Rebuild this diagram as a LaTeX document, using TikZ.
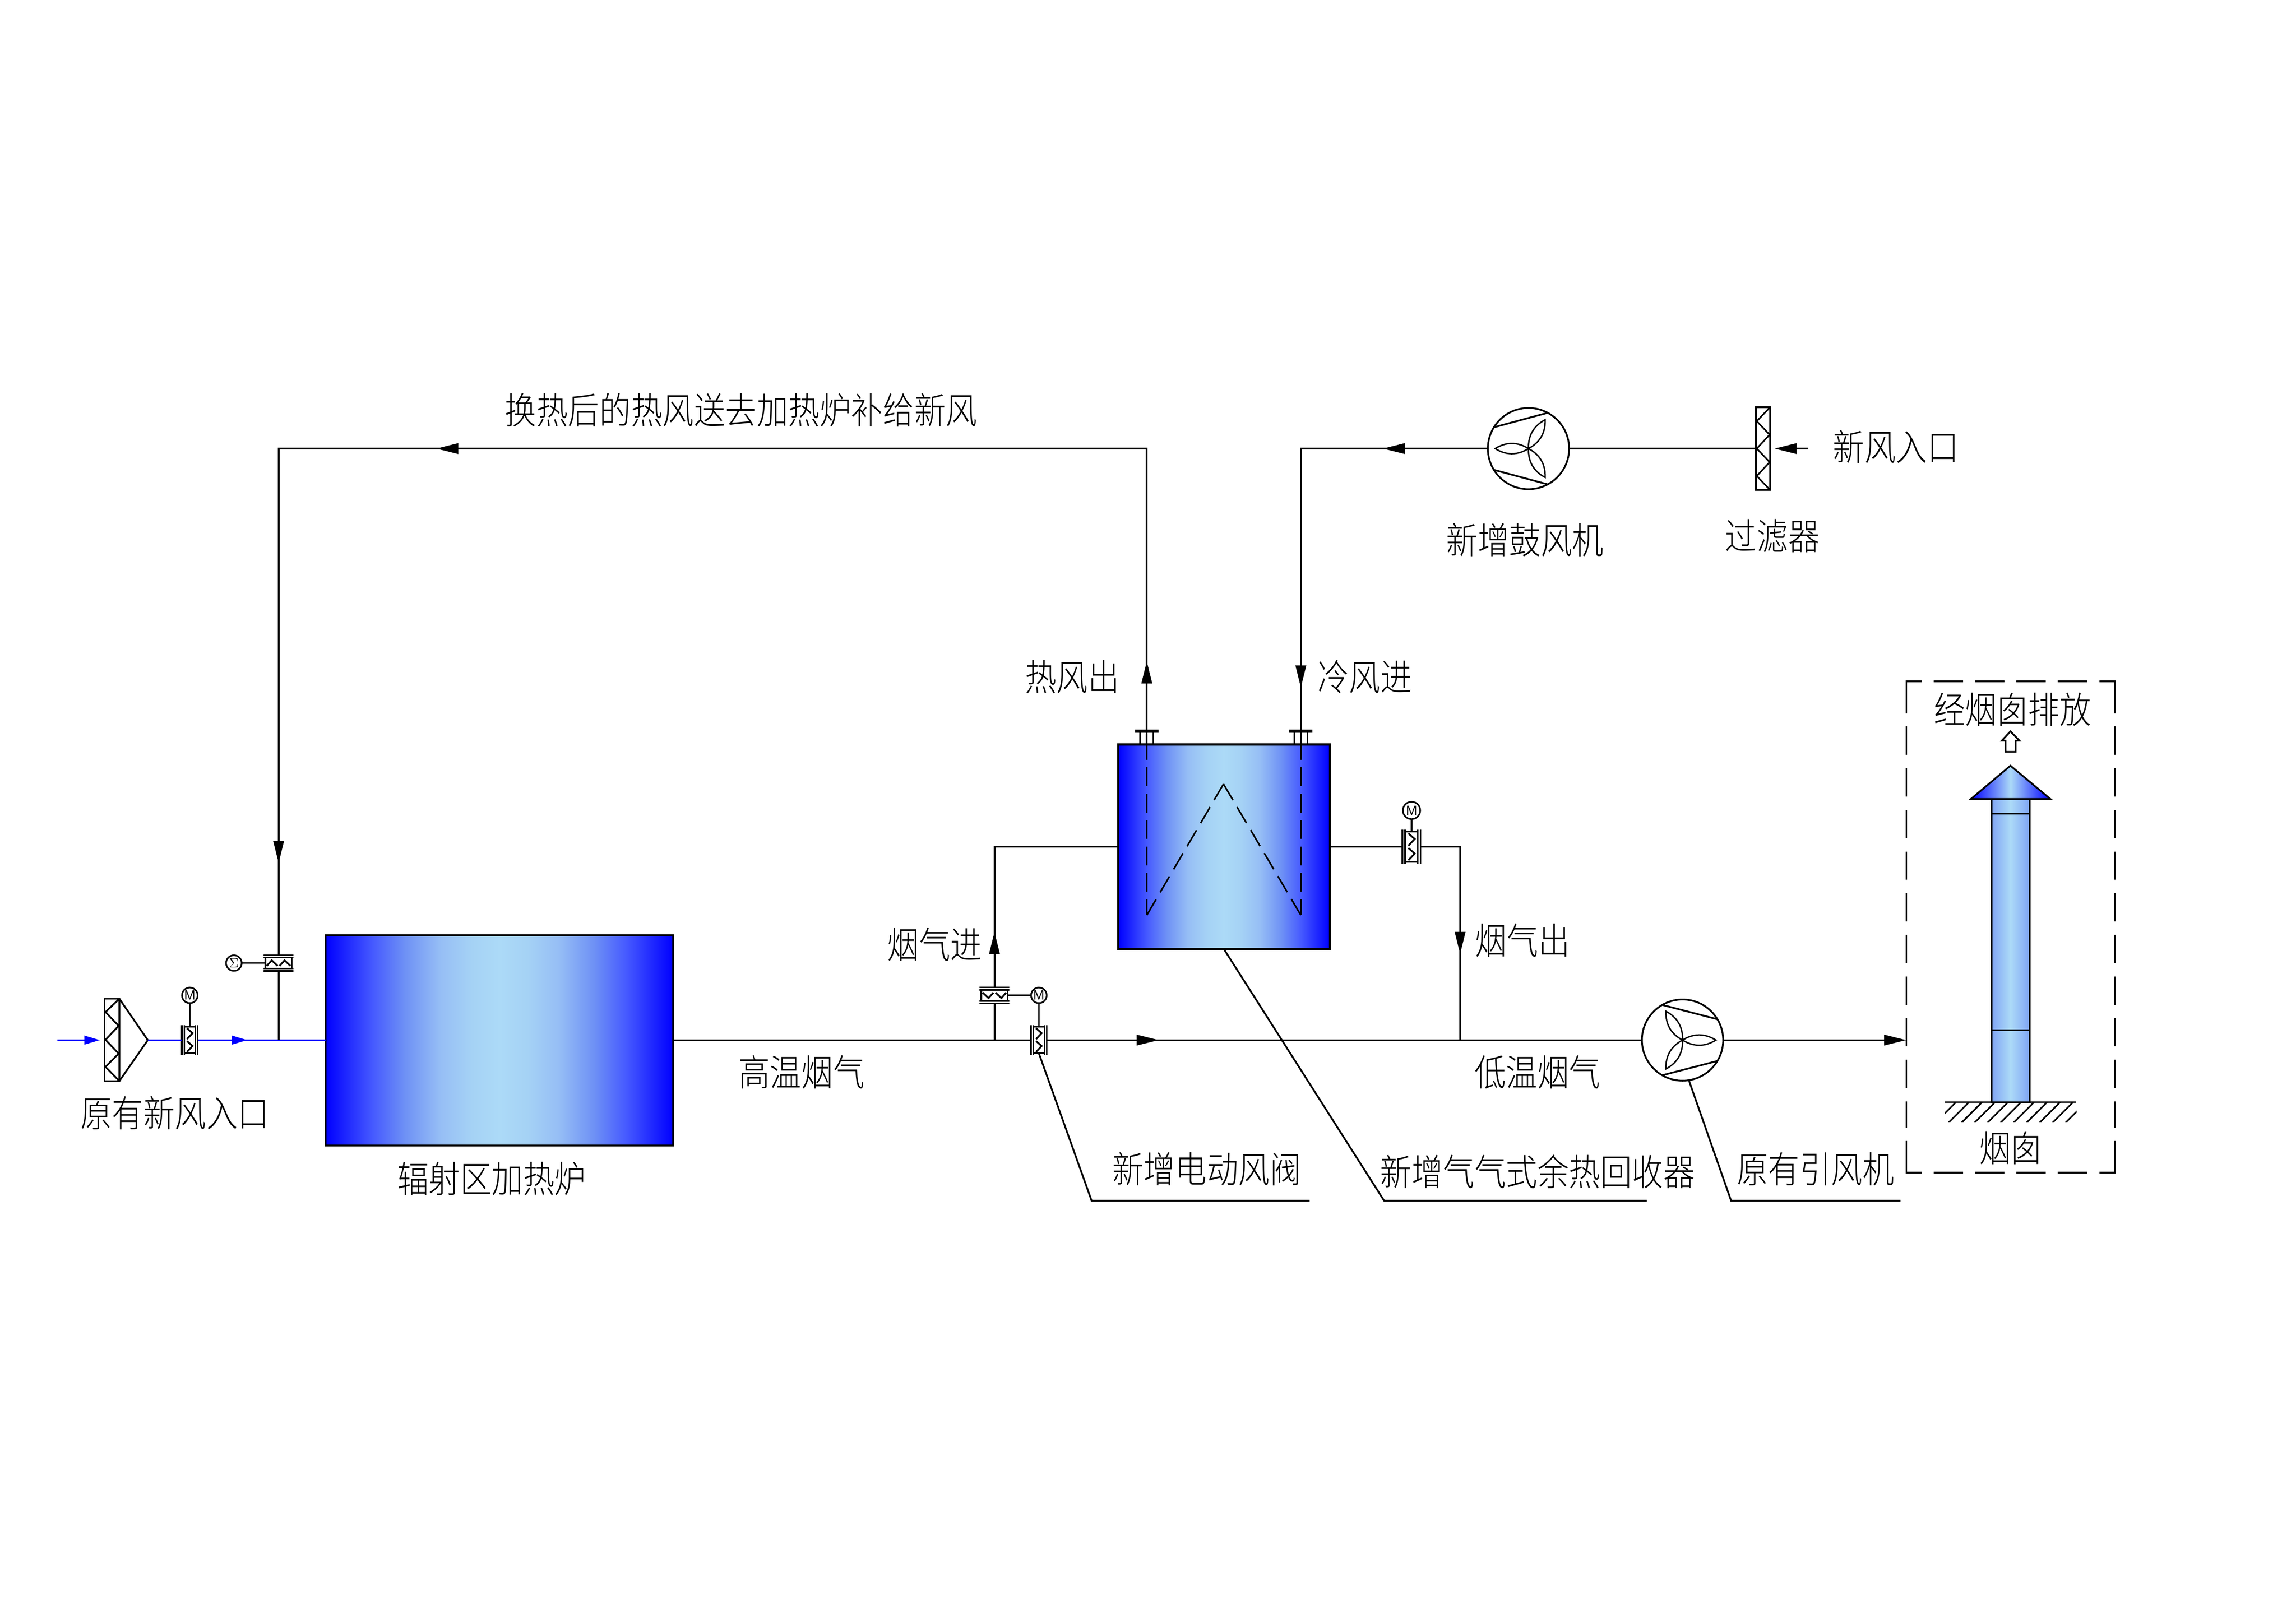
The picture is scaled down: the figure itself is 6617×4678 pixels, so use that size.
\documentclass[tikz,border=0pt]{standalone}
\usepackage{fontspec}
\usetikzlibrary{arrows.meta,calc}
\newfontfamily\cjk[FakeStretch=0.86]{Noto Sans CJK SC Light}
\newfontfamily\latn{Liberation Sans}
\definecolor{pale}{RGB}{172,218,247}
\definecolor{midb}{RGB}{128,165,245}
\definecolor{hA}{RGB}{70,90,255}
\definecolor{hB}{RGB}{110,145,245}
\definecolor{hC}{RGB}{150,190,245}
\definecolor{hD}{RGB}{165,210,245}
\pgfdeclarehorizontalshading{hotgrad}{100bp}{
  color(0bp)=(blue); color(25bp)=(blue); color(31.8bp)=(hA); color(36.4bp)=(hB);
  color(41.5bp)=(hC); color(46bp)=(hD); color(50bp)=(pale); color(54bp)=(hD);
  color(58.5bp)=(hC); color(63.6bp)=(hB); color(68.2bp)=(hA); color(75bp)=(blue); color(100bp)=(blue)}
\tikzset{
  pipe/.style={draw=black,line width=.05cm,line cap=butt,line join=miter},
  bluepipe/.style={draw=blue,line width=.05cm},
  thin part/.style={draw=black,line width=.045cm},
  flow/.style={pipe,-{Triangle[length=.64cm,width=.30cm]}},
  blueflow/.style={bluepipe,-{Triangle[length=.45cm,width=.25cm]}},
  hotbox/.style={draw=black,line width=.055cm,rectangle,outer sep=0pt,shading=hotgrad},
  fanbody/.style={draw=black,line width=.05cm,circle,inner sep=0pt,minimum size=2.34cm,outer sep=0pt},
  motor/.style={draw=black,line width=.045cm,circle,inner sep=0pt,minimum size=.45cm,outer sep=0pt,font=\latn\fontsize{11}{11}\selectfont},
  lab/.style={inner sep=0pt,font=\cjk\fontsize{30}{30}\selectfont},
  hid/.style={draw=black,line width=.045cm}
}
\newcommand{\damperat}[5]{%
  \begin{scope}[shift={(#2,#3)},rotate=#5,scale=#4]
    \draw[thin part] (-23,-43) -- (-23,43) (-16,-43) -- (-16,43) (16,-43) -- (16,43) (23,-43) -- (23,43);
    \draw[thin part] (-16,-38) -- (16,-38) (-16,38) -- (16,38);
    \draw[thin part,line width=.05cm] (-8,-34) -- (8,-20) -- (-8,-3) (-8,3) -- (8,17) -- (-8,34);
    \coordinate (#1-l) at (-23,0);
    \coordinate (#1-r) at (23,0);
    \coordinate (#1-t) at (0,-38);
    \coordinate (#1-b) at (0,38);
  \end{scope}}
\newcommand{\bladesat}[2]{%
  \foreach \a in {#2,#2+120,#2+240}
    \draw[line width=.04cm] (#1.center) to[bend left=32] ++(\a:96) to[bend left=32] (#1.center);}
\begin{document}
\begin{tikzpicture}[x=.01cm,y=-.01cm]
\useasboundingbox (0,0) rectangle (6617,4678);
\fill[white] (0,0) rectangle (6617,4678);

% ---- main equipment
\node[hotbox,minimum width=10.01cm,minimum height=6.06cm] (furnace) at (1439.5,2999) {};
\node[hotbox,minimum width=6.09cm,minimum height=5.9cm] (rec) at (3527.5,2441) {};
\node[fanbody] (fanB) at (4405,1293) {};
\node[fanbody] (fanA) at (4849,2998) {};
\node[motor] (m1) at (547,2869) {M};
\node[motor] (m2) at (674,2776) {$\Sigma$};
\node[motor] (m3) at (2994,2869) {M};
\node[motor,minimum size=.5cm] (m5) at (4068,2336) {M};

% ---- coordinates
\coordinate (inA) at (166,2998);
\coordinate (inTip) at (288,2998);
\coordinate (coneTip) at (426,2998);
\coordinate (joinA) at (803,2998);
\coordinate (blueTip) at (713,2998);
\coordinate (furnW) at (939,2998);
\coordinate (furnE) at (1940,2998);
\coordinate (hot) at (3305,2146);
\coordinate (hotCap) at (3305,2108);
\coordinate (hotTip) at (3305,1906);
\coordinate (hotCorner) at (3305,1293);
\coordinate (cornerA) at (803,1293);
\coordinate (leftTip) at (1257,1293);
\coordinate (downTip) at (803,2488);
\coordinate (cold) at (3749,2146);
\coordinate (coldCap) at (3749,2108);
\coordinate (coldCorner) at (3749,1293);
\coordinate (coldTip) at (3749,1982);
\coordinate (coldLeftTip) at (3985,1293);
\coordinate (teeA) at (2866,2998);
\coordinate (gasTip) at (2866,2686);
\coordinate (gasCorner) at (2866,2441);
\coordinate (mainTip) at (3340,2998);
\coordinate (teeB) at (4208,2998);
\coordinate (outCorner) at (4208,2441);
\coordinate (outTip) at (4208,2750);
\coordinate (stackIn) at (5494,2998);
\coordinate (filtB) at (5061,1293);
\coordinate (newTip) at (5114,1293);
\coordinate (newTail) at (5212,1293);

% ---- dampers
\damperat{v1}{547}{2998}{1}{0}
\damperat{d2}{803}{2776}{1}{90}
\damperat{d3}{2866}{2869}{1}{-90}
\damperat{v3}{2994}{2998}{1}{0}
\damperat{v5}{4068}{2441}{1.14}{0}

% ---- stems
\draw[thin part] (m1) -- (v1-t);
\draw[thin part] (m2) -- (d2-t);
\draw[thin part] (m3) -- (d3-t);
\draw[thin part] (m3) -- (v3-t);
\draw[thin part] (m5) -- (v5-t);

% ---- filter A
\draw[thin part,line width=.05cm] (301,2879) rectangle (344,3116);
\draw[thin part,line width=.05cm] (344,2879) -- (304,2917) -- (342,2957) -- (304,2997) -- (342,3037) -- (304,3075) -- (344,3116);
\draw[thin part,line width=.05cm] (344,2879) -- (coneTip) -- (344,3116);

% ---- filter B
\node[draw=black,line width=.05cm,minimum width=.41cm,minimum height=2.38cm,inner sep=0pt,outer sep=0pt] (filterB) at (5081.5,1293) {};
\draw[thin part] (5101,1174) -- (5063,1214) -- (5100,1253) -- (5063,1293) -- (5100,1332) -- (5063,1372) -- (5101,1412);

% ---- blue inlet
\draw[blueflow] (inA) -- (inTip);
\draw[bluepipe] (coneTip) -- (v1-l);
\draw[bluepipe] (v1-r) -- (furnW);
\draw[blueflow] (v1-r) -- (blueTip);

% ---- air circuit
\draw[pipe] (d2-l) -- (joinA);
\draw[pipe] (hot) -- (hotCorner) -- (cornerA) -- (d2-r);
\draw[flow] (hotCap) -- (hotTip);
\draw[flow] (hotCorner) -- (leftTip);
\draw[flow] (cornerA) -- (downTip);
\draw[pipe] (fanB.west) -- (coldCorner) -- (cold);
\draw[flow] (coldCorner) -- (coldTip);
\draw[flow] (fanB.west) -- (coldLeftTip);
\draw[pipe] (fanB.east) -- (filtB);
\draw[flow] (newTail) -- (newTip);

% ---- flue gas
\draw[pipe] (furnE) -- (v3-l);
\draw[pipe] (teeA) -- (d3-r);
\draw[pipe] (d3-l) -- (gasCorner) -- (rec.west);
\draw[flow] (d3-l) -- (gasTip);
\draw[pipe] (v3-r) -- (fanA.west);
\draw[flow] (v3-r) -- (mainTip);
\draw[pipe] (rec.east) -- (v5-l);
\draw[pipe] (v5-r) -- (outCorner) -- (teeB);
\draw[flow] (outCorner) -- (outTip);
\draw[flow] (fanA.east) -- (stackIn);

% ---- recuperator nozzles and internal coil
\draw[pipe,line width=.09cm] (3271,2108) -- (3339,2108);
\draw[pipe,line width=.09cm] (3715,2108) -- (3782,2108);
\draw[thin part] (3286,2108) -- (3286,2146) (3324,2108) -- (3324,2146);
\draw[thin part] (3730,2108) -- (3730,2146) (3768,2108) -- (3768,2146);
\draw[pipe] (hotCap) -- (hot);
\draw[pipe] (coldCap) -- (cold);
\coordinate (coilL) at (3305,2638);
\coordinate (coilR) at (3749,2638);
\coordinate (coilTop) at (3526,2260);
\draw[hid,dash pattern=on .54cm off .22cm,dash phase=.08cm] (coilL) -- (hot);
\draw[hid,dash pattern=on .54cm off .22cm,dash phase=.08cm] (coilR) -- (cold);
\draw[hid,dash pattern=on .535cm off .235cm] (coilTop) -- (coilL);
\draw[hid,dash pattern=on .535cm off .235cm] (coilTop) -- (coilR);

% ---- fans
\bladesat{fanA}{0}
\bladesat{fanB}{180}
\begin{scope}[shift={(fanA.center)}]
  \draw[thin part,line width=.05cm] (-57,-101) -- (101,-60) (-57,101) -- (101,60);
\end{scope}
\begin{scope}[shift={(fanB.center)}]
  \draw[thin part,line width=.05cm] (-101,-61) -- (55,-103) (-101,61) -- (55,103);
\end{scope}

% ---- stack
\node[draw=black,line width=.055cm,rectangle,minimum width=1.1cm,minimum height=8.74cm,outer sep=0pt,left color=midb,right color=midb,middle color=pale] (stack) at (5794,2740) {};
\draw[line width=.05cm,left color=blue,right color=blue,middle color=pale] (5794,2207) -- (5909,2303) -- (5680,2303) -- cycle;
\draw[thin part] (stack.west |- 0,2346) -- (stack.east |- 0,2346);
\draw[thin part] (stack.west |- 0,2969) -- (stack.east |- 0,2969);
\draw[thin part] (5605,3177) -- (5983,3177);
\begin{scope}
  \clip (5605,3177) rectangle (5985,3234);
  \foreach \k in {0,...,10}
    \draw[thin part] ({5637+37.5*\k},3177) -- ++(-60,60);
\end{scope}
\draw[thin part,line width=.05cm] (5780,2167) -- (5780,2135) -- (5769,2135) -- (5794,2108) -- (5820,2135) -- (5809,2135) -- (5809,2167) -- cycle;

% ---- dashed enclosure
\draw[pipe,line width=.045cm] (5494,2056) -- (5494,1964) -- (5538,1964);
\draw[pipe,line width=.045cm] (6051,1964) -- (6095,1964) -- (6095,2056);
\draw[pipe,line width=.045cm] (5494,3288) -- (5494,3380) -- (5538,3380);
\draw[pipe,line width=.045cm] (6051,3380) -- (6095,3380) -- (6095,3288);
\draw[pipe,line width=.045cm,dash pattern=on .84cm off .35cm] (5573,1964) -- (6016,1964);
\draw[pipe,line width=.045cm,dash pattern=on .84cm off .35cm] (5573,3380) -- (6016,3380);
\draw[pipe,line width=.045cm,dash pattern=on .82cm off .38cm] (5494,2094) -- (5494,3250);
\draw[pipe,line width=.045cm,dash pattern=on .82cm off .38cm] (6095,2094) -- (6095,3250);

% ---- leaders
\coordinate (lead1) at (3146,3461);
\coordinate (lead1e) at (3774,3461);
\coordinate (lead2) at (3989,3461);
\coordinate (lead2e) at (4746,3461);
\coordinate (lead3) at (4989,3461);
\coordinate (lead3e) at (5477,3461);
\draw[pipe] (v3-b) -- (lead1) -- (lead1e);
\draw[pipe] (rec.south) -- (lead2) -- (lead2e);
\draw[pipe] (4868,3116) -- (lead3) -- (lead3e);

% ---- labels
\node[lab] (t1) at (504,3208) {原有新风入口};
\node[lab] (t2) at (2136,1182) {换热后的热风送去加热炉补给新风};
\node[lab] (t3) at (5464,1288) {新风入口};
\node[lab] (t4) at (4395,1556) {新增鼓风机};
\node[lab] (t5) at (5108,1545) {过滤器};
\node[lab] (t6) at (3090,1951) {热风出};
\node[lab] (t7) at (3933,1951) {冷风进};
\node[lab] (t8) at (2694,2723) {烟气进};
\node[lab] (t9) at (4388,2710) {烟气出};
\node[lab] (t10) at (2310,3090) {高温烟气};
\node[lab] (t11) at (4431,3090) {低温烟气};
\node[lab] (t12) at (1417,3398) {辐射区加热炉};
\node[lab] (t13) at (3478,3369) {新增电动风阀};
\node[lab] (t14) at (4431,3377) {新增气气式余热回收器};
\node[lab] (t15) at (5232,3369) {原有引风机};
\node[lab] (t16) at (5800,2045) {经烟囱排放};
\node[lab] (t17) at (5795,3309) {烟囱};
\end{tikzpicture}
\end{document}
